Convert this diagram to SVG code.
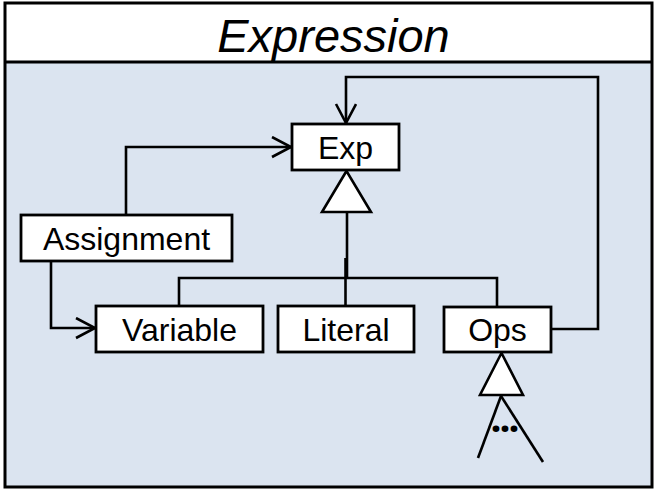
<svg xmlns="http://www.w3.org/2000/svg" width="654" height="490" viewBox="0 0 654 490">
<style>
.box{fill:#fff;stroke:#000;stroke-width:2.8}
.lbl{font-family:"Liberation Sans",Arial,sans-serif;font-size:32px;text-anchor:middle;fill:#000}
.ln{fill:none;stroke:#000;stroke-width:2.6}
.tri{fill:#fff;stroke:#000;stroke-width:2.6;stroke-linejoin:miter}
</style>
<defs>
<marker id="open" markerWidth="24" markerHeight="24" refX="20" refY="11" orient="auto" markerUnits="userSpaceOnUse">
<path d="M1,1 L20,11 L1,21" fill="none" stroke="#000" stroke-width="2.6"/>
</marker>
</defs>
<g id="frame">
<rect x="5" y="3" width="647" height="484" fill="#DBE4F0" stroke="none"/>
<rect x="5" y="3" width="647" height="59" fill="#fff" stroke="none"/>
<rect x="5" y="3" width="647" height="484" fill="none" stroke="#000" stroke-width="3"/>
<line x1="5" y1="62" x2="652" y2="62" stroke="#000" stroke-width="3"/>
<text x="333.5" y="52" style="font-family:'Liberation Sans',Arial,sans-serif;font-size:47px;font-style:italic;text-anchor:middle">Expression</text>
</g>
<g id="connectors">
<path class="ln" d="M126,215 V147 H291" marker-end="url(#open)"/>
<path class="ln" d="M51,261 V328 H95" marker-end="url(#open)"/>
<path class="ln" d="M551,329 H598 V77 H346 V123" marker-end="url(#open)"/>
<line class="ln" x1="347" y1="212" x2="347" y2="278"/>
<line class="ln" x1="345.5" y1="258" x2="345.5" y2="307"/>
<path class="ln" d="M179,306 V278 H497 V307"/>
<polygon class="tri" points="346.5,171 322,212 371,212"/>
<polygon class="tri" points="501.5,353 480,395 523,395"/>
<line class="ln" x1="501" y1="396" x2="478" y2="458"/>
<line class="ln" x1="501" y1="396" x2="543" y2="462"/>
<text x="504" y="432" style="font-family:'Noto Sans','DejaVu Sans',sans-serif;font-size:39px;font-weight:bold;text-anchor:middle;letter-spacing:-2px">...</text>
</g>
<g id="exp">
<rect class="box" x="292" y="124" width="107" height="46"/>
<text class="lbl" x="345.5" y="158.5">Exp</text>
</g>
<g id="assignment">
<rect class="box" x="21" y="215" width="211" height="46"/>
<text class="lbl" x="126.5" y="249.5">Assignment</text>
</g>
<g id="variable">
<rect class="box" x="96" y="306" width="167" height="46"/>
<text class="lbl" x="179.5" y="340.5">Variable</text>
</g>
<g id="literal">
<rect class="box" x="278" y="306" width="136" height="46"/>
<text class="lbl" x="346" y="340.5">Literal</text>
</g>
<g id="ops">
<rect class="box" x="444" y="307" width="107" height="45"/>
<text class="lbl" x="497.5" y="340.5">Ops</text>
</g>
</svg>
